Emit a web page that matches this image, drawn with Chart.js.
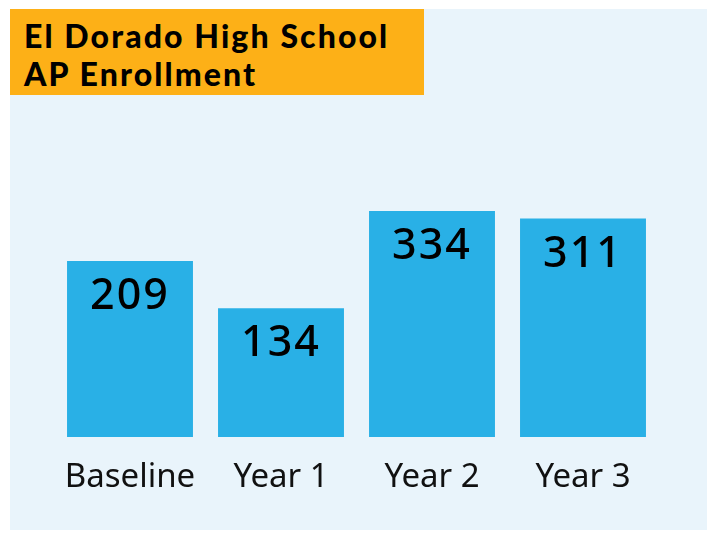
<!DOCTYPE html>
<html>
<head>
<meta charset="utf-8">
<script src="https://cdn.jsdelivr.net/npm/chart.js@4"></script>
<style>
  html, body { margin: 0; padding: 0; background: #fff; }
  #wrap { position: relative; width: 707px; height: 533px; overflow: hidden; }
  #panel { position: absolute; left: 10px; top: 9px; width: 697px; height: 521px; background: #e9f4fb; }
  #title {
    position: absolute; left: 10px; top: 9px; width: 414px; height: 86px;
    background: #fdb017; box-sizing: border-box; padding: 8px 0 0 14px;
    font-family: "Lato", sans-serif; font-weight: 900; font-size: 32px; line-height: 38px;
    letter-spacing: 2.1px; color: #000;
  }
  #chart { position: absolute; left: 0; top: 0; }
</style>
</head>
<body>
<div id="wrap">
  <div id="panel"></div>
  <canvas id="chart" width="707" height="533"></canvas>
  <div id="title">El Dorado High School<br>AP Enrollment</div>
</div>
<script>
// data
const categories = ['Baseline', 'Year 1', 'Year 2', 'Year 3'];
const enrollment = [209, 134, 334, 311];

// the original graphic is not drawn to a linear scale, a log axis matches it best
const valueLabels = {
    id: 'valueLabels',
    afterDatasetsDraw(chart) {
        const ctx = chart.ctx;
        const meta = chart.getDatasetMeta(0);
        ctx.save();
        ctx.font = '500 43px "Noto Sans", sans-serif';
        ctx.letterSpacing = '2px';
        ctx.fillStyle = '#000';
        ctx.textAlign = 'center';
        ctx.textBaseline = 'middle';
        meta.data.forEach(function(bar, i) {
            ctx.fillText(String(enrollment[i]), bar.x, bar.y + 36);
        });
        ctx.restore();
    }
};

const ctx = document.getElementById('chart').getContext('2d');
const chart = new Chart(ctx, {
    type: 'bar',
    data: {
        labels: categories,
        datasets: [{
            label: 'AP Enrollment',
            data: enrollment,
            backgroundColor: '#29b0e6',
            borderWidth: 0,
            barPercentage: 1,
            categoryPercentage: 0.834
        }]
    },
    options: {
        responsive: false,
        animation: false,
        layout: { padding: { left: 54.5, right: 48.5, top: 100, bottom: 36 } },
        plugins: { legend: { display: false }, tooltip: { enabled: false } },
        scales: {
            y: {
                type: 'logarithmic',
                min: 40,
                max: 947,
                bounds: 'data',
                display: false
            },
            x: {
                grid: { display: false },
                border: { display: false },
                afterFit: function(axis) { axis.height = 60; },
                ticks: {
                    color: '#111',
                    padding: 13,
                    font: { family: '"Noto Sans", sans-serif', size: 33 }
                }
            }
        }
    },
    plugins: [valueLabels]
});
</script>
</body>
</html>
